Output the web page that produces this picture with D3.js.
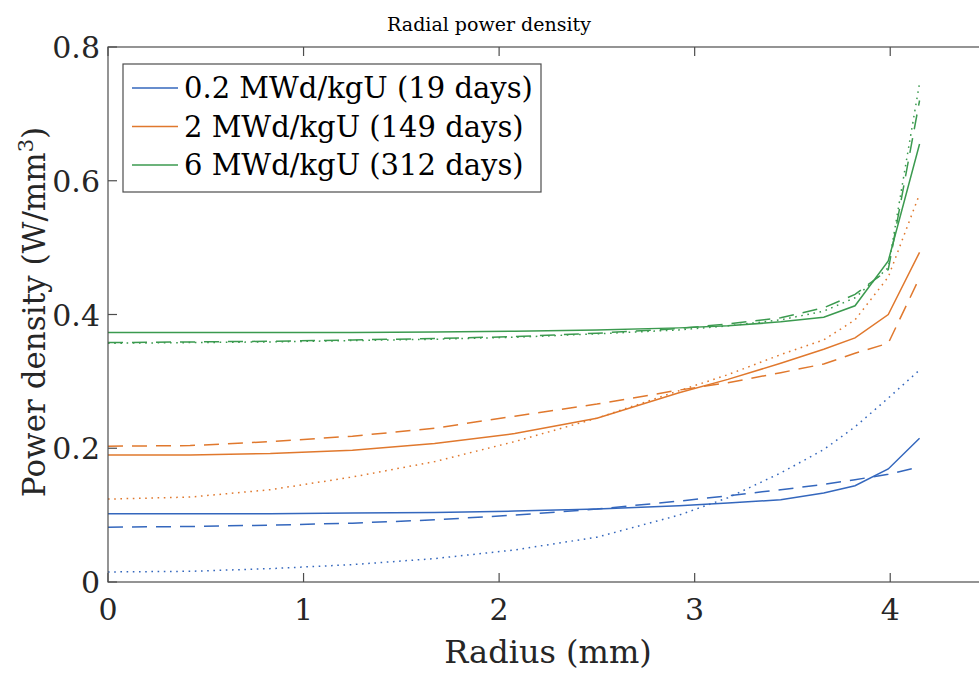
<!DOCTYPE html>
<html>
<head>
<meta charset="utf-8">
<script src="https://cdn.jsdelivr.net/npm/d3@7"></script>
<style>
  body { margin: 0; background: #fff; }
  svg { display: block; overflow: hidden; }
  svg text { font-family: 'DejaVu Serif', 'Liberation Serif', serif; }
</style>
</head>
<body>
<div id="chart"></div>
<script>
// radial nodes (mm)
const radius = [0, 0.42, 0.83, 1.25, 1.67, 2.08, 2.5, 2.92, 3.17, 3.44, 3.66, 3.82, 3.99, 4.15];

// 0.2 MWd/kgU
const solid02 = [0.102, 0.102, 0.102, 0.103, 0.104, 0.106, 0.109, 0.114, 0.118, 0.123, 0.133, 0.144, 0.169, 0.215];
const dash02  = [0.082, 0.083, 0.085, 0.088, 0.093, 0.100, 0.109, 0.121, 0.129, 0.138, 0.146, 0.153, 0.161, 0.172];
const dot02   = [0.015, 0.016, 0.020, 0.026, 0.035, 0.048, 0.067, 0.100, 0.126, 0.163, 0.198, 0.232, 0.275, 0.317];
// 2 MWd/kgU
const solid2 = [0.190, 0.190, 0.192, 0.197, 0.207, 0.222, 0.245, 0.283, 0.303, 0.327, 0.348, 0.365, 0.400, 0.493];
const dash2  = [0.203, 0.204, 0.210, 0.218, 0.230, 0.248, 0.266, 0.287, 0.298, 0.313, 0.326, 0.342, 0.357, 0.455];
const dot2   = [0.124, 0.127, 0.138, 0.157, 0.180, 0.210, 0.245, 0.286, 0.310, 0.340, 0.362, 0.392, 0.456, 0.580];
// 6 MWd/kgU
const solid6 = [0.373, 0.373, 0.373, 0.373, 0.374, 0.375, 0.377, 0.380, 0.383, 0.389, 0.396, 0.413, 0.480, 0.655];
const dash6  = [0.358, 0.359, 0.360, 0.362, 0.364, 0.367, 0.372, 0.379, 0.386, 0.395, 0.410, 0.430, 0.467, 0.720];
const dot6   = [0.357, 0.358, 0.359, 0.361, 0.363, 0.366, 0.371, 0.377, 0.383, 0.392, 0.405, 0.425, 0.470, 0.746];

const legendLabels = ['0.2 MWd/kgU (19 days)', '2 MWd/kgU (149 days)', '6 MWd/kgU (312 days)'];
const colors = ['#3467bd', '#e0782d', '#3b9a4f'];
const xTicks = [0, 1, 2, 3, 4];
const yTicks = [0, 0.2, 0.4, 0.6, 0.8];

const W = 979, H = 673;
const mLeft = 108, mTop = 47, mRight = 988, mBottom = 582;
const ink = '#262626';

const dashes = { solid: null, dash: '15,9', dot: '1.6,4.6' };

const series = [
  { v: solid02, c: 0, s: 'solid' }, { v: dash02, c: 0, s: 'dash' }, { v: dot02, c: 0, s: 'dot' },
  { v: solid2, c: 1, s: 'solid' },  { v: dash2, c: 1, s: 'dash' },  { v: dot2, c: 1, s: 'dot' },
  { v: solid6, c: 2, s: 'solid' },  { v: dash6, c: 2, s: 'dash' },  { v: dot6, c: 2, s: 'dot' },
];

const svg = d3.select('#chart').append('svg')
  .attr('width', W)
  .attr('height', H);

const x = d3.scaleLinear().domain([0, 4.5]).range([mLeft, mRight]);
const y = d3.scaleLinear().domain([0, 0.8]).range([mBottom, mTop]);

// lines
const line = d3.line()
  .x((d, i) => x(radius[i]))
  .y(d => y(d));

svg.append('g').selectAll('path')
  .data(series)
  .enter()
  .append('path')
  .attr('d', d => line(d.v))
  .attr('fill', 'none')
  .attr('stroke', d => colors[d.c])
  .attr('stroke-width', 1.5)
  .attr('stroke-dasharray', d => dashes[d.s]);

// box + ticks
const tickLen = 9;
const axisG = svg.append('g').attr('stroke', '#4d4d4d').attr('stroke-width', 1.2).attr('fill', 'none');
axisG.append('rect')
  .attr('x', mLeft).attr('y', mTop)
  .attr('width', mRight - mLeft).attr('height', mBottom - mTop);

xTicks.forEach(t => {
  axisG.append('line').attr('x1', x(t)).attr('x2', x(t)).attr('y1', mBottom).attr('y2', mBottom - tickLen);
  axisG.append('line').attr('x1', x(t)).attr('x2', x(t)).attr('y1', mTop).attr('y2', mTop + tickLen);
});
yTicks.forEach(t => {
  axisG.append('line').attr('x1', mLeft).attr('x2', mLeft + tickLen).attr('y1', y(t)).attr('y2', y(t));
  axisG.append('line').attr('x1', mRight).attr('x2', mRight - tickLen).attr('y1', y(t)).attr('y2', y(t));
});

// tick labels
svg.append('g').selectAll('text')
  .data(xTicks)
  .enter()
  .append('text')
  .attr('x', d => x(d))
  .attr('y', 620)
  .attr('text-anchor', 'middle')
  .attr('font-size', 30)
  .attr('fill', ink)
  .text(d => d);

svg.append('g').selectAll('text')
  .data(yTicks)
  .enter()
  .append('text')
  .attr('x', mLeft - 8)
  .attr('y', d => y(d) + 11)
  .attr('text-anchor', 'end')
  .attr('font-size', 30)
  .attr('fill', ink)
  .text(d => d === 0 ? '0' : d.toFixed(1));

// title & axis labels
svg.append('text')
  .attr('x', 489).attr('y', 31)
  .attr('text-anchor', 'middle')
  .attr('font-size', 19)
  .attr('fill', '#000')
  .text('Radial power density');

svg.append('text')
  .attr('x', 548).attr('y', 663)
  .attr('text-anchor', 'middle')
  .attr('font-size', 32)
  .attr('fill', ink)
  .text('Radius (mm)');

const yl = svg.append('text')
  .attr('transform', 'translate(45, 312) rotate(-90)')
  .attr('text-anchor', 'middle')
  .attr('font-size', 31)
  .attr('fill', ink);
yl.append('tspan').text('Power density (W/mm');
yl.append('tspan').attr('font-size', 21).attr('dy', -12).text('3');
yl.append('tspan').attr('dy', 12).text(')');

// legend
const leg = svg.append('g');
leg.append('rect')
  .attr('x', 123).attr('y', 64)
  .attr('width', 418).attr('height', 128)
  .attr('fill', '#fff')
  .attr('stroke', '#4d4d4d')
  .attr('stroke-width', 1.2);

legendLabels.forEach((lab, i) => {
  const ly = 88 + i * 38.5;
  leg.append('line')
    .attr('x1', 132).attr('x2', 178)
    .attr('y1', ly).attr('y2', ly)
    .attr('stroke', colors[i])
    .attr('stroke-width', 1.5);
  leg.append('text')
    .attr('x', 184).attr('y', ly + 10)
    .attr('font-size', 29)
    .attr('fill', '#000')
    .text(lab);
});
</script>
</body>
</html>
